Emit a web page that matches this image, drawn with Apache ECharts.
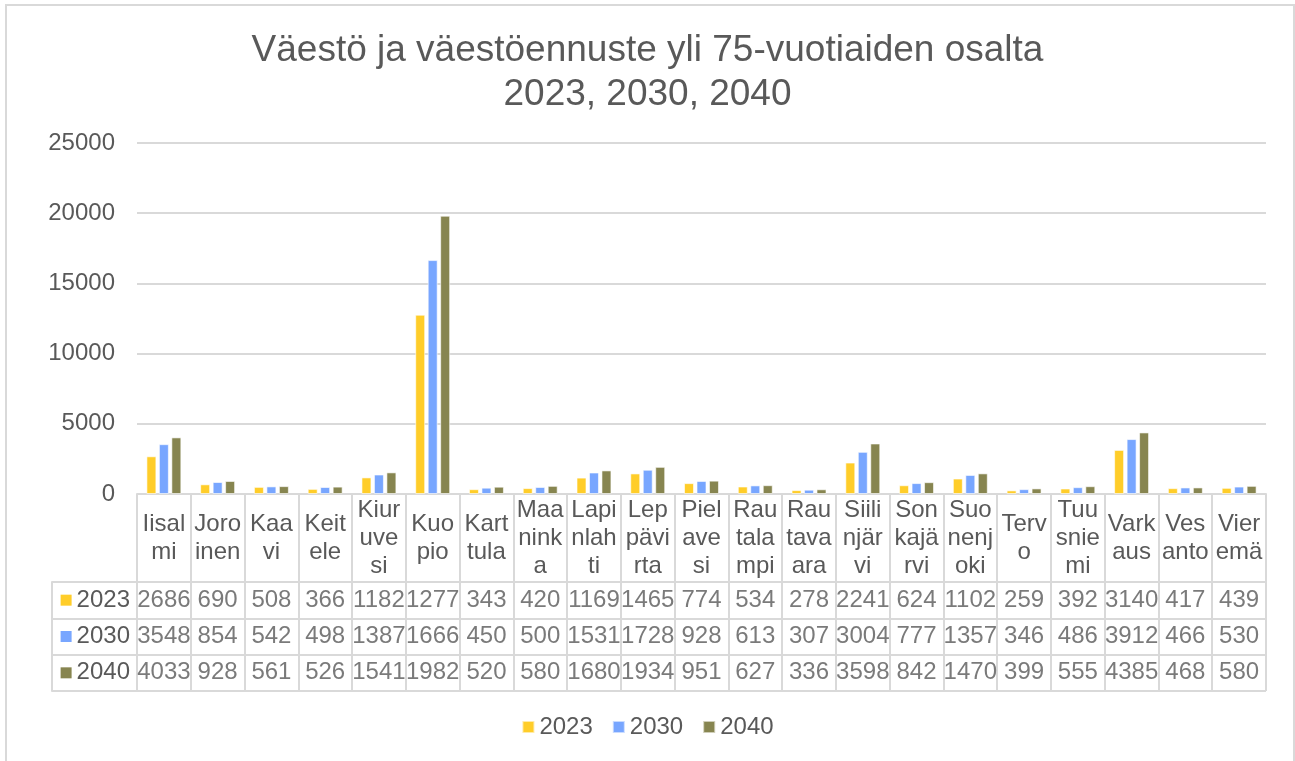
<!DOCTYPE html>
<html>
<head>
<meta charset="utf-8">
<script src="https://cdn.jsdelivr.net/npm/echarts@6/dist/echarts.min.js"></script>
<style>
  html, body { margin: 0; padding: 0; background: #fff; }
  #chart { width: 1295px; height: 761px; }
</style>
</head>
<body>
<div id="chart"></div>
<script>
// municipality labels, wrapped the way the table cells show them
const cityLabels = [
    'Iisal\nmi', 'Joro\ninen', 'Kaa\nvi', 'Keit\nele', 'Kiur\nuve\nsi', 'Kuo\npio', 'Kart\ntula',
    'Maa\nnink\na', 'Lapi\nnlah\nti', 'Lep\npävi\nrta', 'Piel\nave\nsi', 'Rau\ntala\nmpi', 'Rau\ntava\nara',
    'Siili\nnjär\nvi', 'Son\nkajä\nrvi', 'Suo\nnenj\noki', 'Terv\no', 'Tuu\nsnie\nmi', 'Vark\naus', 'Ves\nanto', 'Vier\nemä'
];
const years = ['2023', '2030', '2040'];
const yAxisTicks = [0, 5000, 10000, 15000, 20000, 25000];

const pop2023 = [2686, 690, 508, 366, 1182, 12770, 343, 420, 1169, 1465, 774, 534, 278, 2241, 624, 1102, 259, 392, 3140, 417, 439];
const pop2030 = [3548, 854, 542, 498, 1387, 16660, 450, 500, 1531, 1728, 928, 613, 307, 3004, 777, 1357, 346, 486, 3912, 466, 530];
const pop2040 = [4033, 928, 561, 526, 1541, 19820, 520, 580, 1680, 1934, 951, 627, 336, 3598, 842, 1470, 399, 555, 4385, 468, 580];

const colors = ['#FFCD29', '#78A6FF', '#878550'];
const textColor = '#595959';
const lineColor = '#d9d9d9';
const fontFamily = '"Liberation Sans", Arial, sans-serif';

const chart = echarts.init(document.getElementById('chart'));

const seriesValues = [pop2023, pop2030, pop2040];

// table cells: [column, row, value]
let tableCells = [];
seriesValues.forEach(function (vals, row) {
    vals.forEach(function (v, col) {
        tableCells.push([col, years[row], v]);
    });
});

const rowRich = {t: {fontSize: 24, color: textColor, fontFamily: fontFamily, padding: [0, 0, 0, 5]}};
years.forEach(function (y, i) {
    rowRich['s' + y] = {width: 11, height: 11, backgroundColor: colors[i]};
});

const option = {
    backgroundColor: '#fff',
    textStyle: {fontFamily: fontFamily},
    title: {
        text: 'Väestö ja väestöennuste yli 75-vuotiaiden osalta\n2023, 2030, 2040',
        left: 'center',
        top: 24,
        textStyle: {fontSize: 37, fontWeight: 'normal', color: textColor, lineHeight: 44, fontFamily: fontFamily}
    },
    legend: {
        data: years,
        bottom: 17,
        left: 'center',
        icon: 'rect',
        itemWidth: 12,
        itemHeight: 12,
        itemGap: 19,
        textStyle: {fontSize: 24, color: textColor}
    },
    graphic: [{
        type: 'rect',
        shape: {x: 6, y: 5, width: 1288, height: 770},
        style: {fill: 'none', stroke: lineColor, lineWidth: 2},
        silent: true
    }],
    grid: [
        {left: 137, right: 29, top: 143, height: 351},
        {left: 137, right: 29, top: 582, height: 109}
    ],
    xAxis: [{
        gridIndex: 0,
        type: 'category',
        data: cityLabels,
        axisLine: {show: true, lineStyle: {color: lineColor, width: 2}},
        axisTick: {show: true, interval: 0, length: 88, lineStyle: {color: lineColor, width: 2}},
        axisLabel: {
            interval: 0,
            fontSize: 24,
            lineHeight: 28,
            color: textColor,
            verticalAlign: 'middle',
            margin: 44
        }
    }, {
        gridIndex: 1,
        type: 'category',
        data: cityLabels,
        axisLine: {show: false},
        axisTick: {show: false},
        axisLabel: {show: false},
        splitLine: {show: true, interval: 0, lineStyle: {color: lineColor, width: 2}}
    }],
    yAxis: [{
        gridIndex: 0,
        type: 'value',
        min: yAxisTicks[0],
        max: yAxisTicks[yAxisTicks.length - 1],
        interval: 5000,
        axisLine: {show: false},
        axisTick: {show: false},
        axisLabel: {fontSize: 24, color: textColor, margin: 22, formatter: function (v) { return String(v); }},
        splitLine: {lineStyle: {color: lineColor, width: 2}}
    }, {
        gridIndex: 1,
        type: 'category',
        inverse: true,
        data: years,
        axisLine: {show: false},
        axisTick: {show: true, interval: 0, length: 85, lineStyle: {color: lineColor, width: 2}},
        axisLabel: {
            margin: 7,
            formatter: function (v) { return '{s' + v + '| }{t|' + v + '}'; },
            rich: rowRich
        },
        splitLine: {show: true, interval: 0, lineStyle: {color: lineColor, width: 2}}
    }, {
        gridIndex: 1,
        type: 'category',
        position: 'left',
        offset: 85,
        inverse: true,
        data: years,
        axisLine: {show: true, lineStyle: {color: lineColor, width: 2}},
        axisTick: {show: false},
        axisLabel: {show: false}
    }],
    series: years.map(function (y, i) {
        return {
            name: y,
            type: 'bar',
            xAxisIndex: 0,
            yAxisIndex: 0,
            data: seriesValues[i],
            barGap: '25%',
            barCategoryGap: '35%',
            itemStyle: {color: colors[i], borderColor: 'rgba(255,255,255,0.6)', borderWidth: 1}
        };
    }).concat([{
        name: 'table',
        type: 'scatter',
        xAxisIndex: 1,
        yAxisIndex: 1,
        symbolSize: 1,
        itemStyle: {color: 'transparent'},
        silent: true,
        data: tableCells,
        label: {
            show: true,
            position: 'inside',
            fontSize: 24,
            color: textColor,
            width: 55,
            overflow: 'truncate',
            ellipsis: '',
            formatter: function (p) { return String(p.value[2]); }
        }
    }])
};

chart.setOption(option);
</script>
</body>
</html>
